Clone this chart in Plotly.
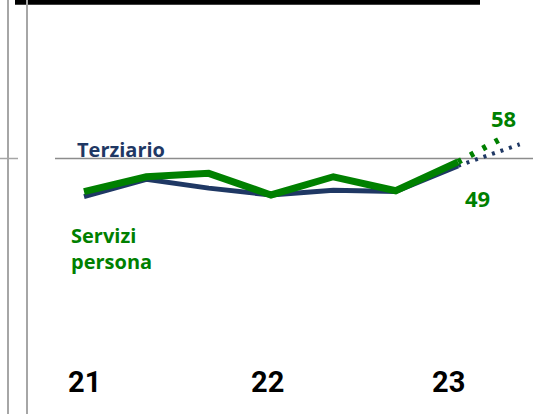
import plotly.graph_objects as go

W, H = 533, 414

# ---- data ----
periods = [21, 21 + 1/3, 21 + 2/3, 22, 22 + 1/3, 22 + 2/3, 23]
terziario = [36.6, 42.7, 39.6, 37.2, 38.9, 38.4, 47.4]
servizi = [38.4, 43.6, 44.8, 37.2, 43.6, 38.7, 48.8]
fc_x_terz = [23, 23.33]
fc_terz = [47.4, 55.0]
fc_x_serv = [23, 23.26]
fc_serv = [48.8, 58.0]
year_vals = [21, 22, 23]
year_labels = ["21", "22", "23"]
ref_level = 50

NAVY = "#1f3864"
GREEN = "#008000"
GRAY = "#a6a6a6"

# pixel mapping helpers (layout only)
PX_PER_YEAR = 187.0
X0_PX = 84.0
PX_PER_UNIT = 2.85
REF_PX = 158.5
x_range = [21 - X0_PX / PX_PER_YEAR, 21 + (W - X0_PX) / PX_PER_YEAR]
y_range = [ref_level - (H - REF_PX) / PX_PER_UNIT, ref_level + REF_PX / PX_PER_UNIT]

fig = go.Figure()

fig.add_trace(go.Scatter(x=fc_x_terz, y=fc_terz, mode="lines",
                         line=dict(color=NAVY, width=4, dash="3px,6px"),
                         hoverinfo="skip", showlegend=False))
fig.add_trace(go.Scatter(x=fc_x_serv, y=fc_serv, mode="lines",
                         line=dict(color=GREEN, width=6, dash="4px,10px"),
                         hoverinfo="skip", showlegend=False))
fig.add_trace(go.Scatter(x=periods, y=terziario, mode="lines",
                         line=dict(color=NAVY, width=5),
                         showlegend=False))
fig.add_trace(go.Scatter(x=periods, y=servizi, mode="lines",
                         line=dict(color=GREEN, width=7),
                         showlegend=False))

shapes = [
    # black top bar
    dict(type="rect", xref="paper", yref="paper", x0=15 / W, x1=480 / W,
         y0=1 - 4.7 / H, y1=1, fillcolor="black", line=dict(width=0), layer="above"),
    # vertical gray lines
    dict(type="line", xref="paper", yref="paper", x0=8 / W, x1=8 / W, y0=0, y1=1,
         line=dict(color=GRAY, width=2)),
    dict(type="line", xref="paper", yref="paper", x0=27 / W, x1=27 / W, y0=0, y1=1,
         line=dict(color=GRAY, width=2)),
    # small tick
    dict(type="line", xref="paper", yref="y", x0=0, x1=18 / W, y0=ref_level, y1=ref_level,
         line=dict(color=GRAY, width=1.5)),
    # reference line
    dict(type="line", xref="paper", yref="y", x0=55 / W, x1=1, y0=ref_level, y1=ref_level,
         line=dict(color="#8c8c8c", width=1.5), layer="below"),
]

annotations = [
    dict(text="<b>Terziario</b>", x=75 / W, xref="paper", xanchor="left",
         y=1 - 149.5 / H, yref="paper", yanchor="middle", showarrow=False,
         font=dict(family="Open Sans", size=20, color=NAVY)),
    dict(text="<b>Servizi<br>persona</b>", x=69 / W, xref="paper", xanchor="left",
         y=1 - 248 / H, yref="paper", yanchor="middle", align="left", showarrow=False,
         font=dict(family="Open Sans", size=20, color=GREEN)),
    dict(text=f"<b>{servizi[-1]:.0f}</b>", x=periods[-1], y=servizi[-1], xref="x", yref="y",
         xshift=19, yshift=-36, showarrow=False,
         font=dict(family="Open Sans", size=22, color=GREEN)),
    dict(text=f"<b>{fc_serv[-1]:.0f}</b>", x=fc_x_serv[-1], y=fc_serv[-1], xref="x", yref="y",
         xshift=-3, yshift=18, showarrow=False,
         font=dict(family="Open Sans", size=22, color=GREEN)),
]
year_shift = [0, -4, -9.5]
for v, lab, s in zip(year_vals, year_labels, year_shift):
    annotations.append(dict(text=f"<b>{lab}</b>", x=v, xref="x", xshift=s,
                            y=1 - 382 / H, yref="paper", yanchor="middle",
                            showarrow=False,
                            font=dict(family="Roboto", size=29, color="black")))

fig.update_layout(
    width=W, height=H, margin=dict(l=0, r=0, t=0, b=0),
    paper_bgcolor="white", plot_bgcolor="white",
    xaxis=dict(range=x_range, visible=False, fixedrange=True),
    yaxis=dict(range=y_range, visible=False, fixedrange=True),
    shapes=shapes, annotations=annotations, showlegend=False,
)

fig.write_html("out.html", config={"displayModeBar": False},
               post_script="document.body.style.margin='0';document.body.style.overflow='hidden';")
